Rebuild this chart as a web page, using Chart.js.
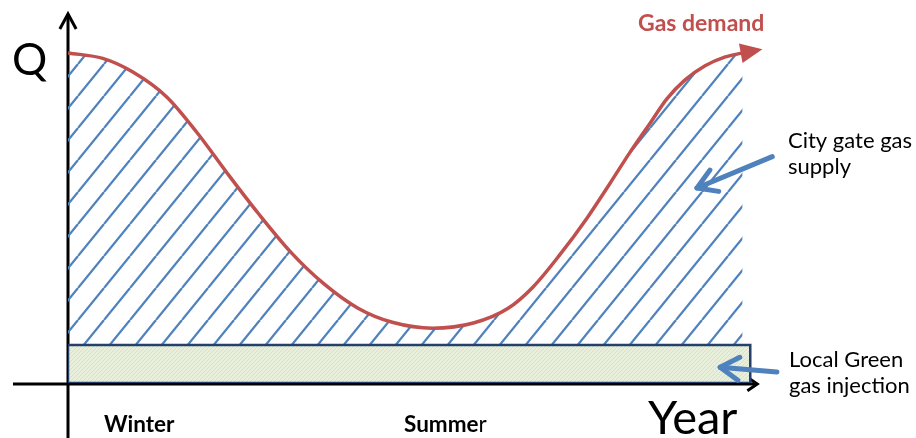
<!DOCTYPE html>
<html>
<head>
<meta charset="utf-8">
<script src="https://cdn.jsdelivr.net/npm/chart.js@4/dist/chart.umd.min.js"></script>
<style>
  html, body { margin: 0; padding: 0; background: #ffffff; }
  #wrap { width: 916px; height: 438px; position: relative; }
</style>
</head>
<body>
<div id="wrap"><canvas id="c"></canvas></div>
<script>
// ---- Data (months of the year vs. relative gas demand Q) ----
const demandMonths = [0, 0.6, 1.12, 1.7, 2.23, 2.75, 3.28, 3.85, 4.4, 5.0, 5.6, 6.3, 7.0, 7.6, 8.03, 8.49, 8.96, 9.36, 9.7, 10.05, 10.34, 10.65, 11.0, 11.35, 11.65];
const demandQ      = [89.7, 88.2, 84.5, 77.8, 68.0, 57.0, 46.2, 35.5, 27.2, 20.4, 16.5, 14.9, 16.3, 20.3, 26.1, 34.8, 44.8, 54.3, 62.6, 70.6, 77.2, 82.3, 86.2, 88.6, 89.7];
const greenGasQ    = 10.3;     // local green gas injection (constant)
const greenGasEnd  = 11.78;    // month where the band ends
const xRange = [0, 12];
const yRange = [0, 100];
// annotation arrows in data units: [fromX, fromY, toX, toY]
const cityGateArrow = [12.16, 61.5, 10.86, 53.0];
const greenArrow    = [12.24, 3.0, 11.26, 4.3];

const HATCH = '#4F81BD';
const RED = '#C0504D';
const BAND_EDGE = '#24406B';

function hatchPattern() {
  const W = 26, H = 32;
  const c = document.createElement('canvas');
  c.width = W; c.height = H;
  const g = c.getContext('2d');
  g.strokeStyle = HATCH; g.lineWidth = 2.2;
  for (const off of [-W, 0, W]) {
    g.beginPath(); g.moveTo(off, H); g.lineTo(off + W, 0); g.stroke();
  }
  return g.createPattern(c, 'repeat');
}
function bandPattern() {
  const c = document.createElement('canvas');
  c.width = 4; c.height = 4;
  const g = c.getContext('2d');
  g.fillStyle = '#e8efdb'; g.fillRect(0, 0, 4, 4);
  g.strokeStyle = '#d6e2c0'; g.lineWidth = 1;
  g.beginPath(); g.moveTo(0, 4); g.lineTo(4, 0); g.moveTo(-2, 2); g.lineTo(2, -2); g.moveTo(2, 6); g.lineTo(6, 2); g.stroke();
  return g.createPattern(c, 'repeat');
}

const demandData = demandMonths.map((m, i) => ({x: m, y: demandQ[i]}));
const bandTop = [{x: 0, y: greenGasQ}, {x: greenGasEnd, y: greenGasQ}];
const bandOutline = [
  {x: 0, y: 0}, {x: 0, y: greenGasQ}, {x: greenGasEnd, y: greenGasQ}, {x: greenGasEnd, y: 0}, {x: 0, y: 0}
];

function arrowChevron(ctx, x1, y1, x2, y2, len, spread) {
  const a = Math.atan2(y2 - y1, x2 - x1);
  ctx.beginPath();
  ctx.moveTo(x2 - len * Math.cos(a - spread), y2 - len * Math.sin(a - spread));
  ctx.lineTo(x2, y2);
  ctx.lineTo(x2 - len * Math.cos(a + spread), y2 - len * Math.sin(a + spread));
  ctx.stroke();
}

const axesPlugin = {
  id: 'axesPlugin',
  beforeDatasetsDraw(chart) {
    const {ctx, scales: {x, y}} = chart;
    const x0 = x.getPixelForValue(0), y0 = y.getPixelForValue(0);
    ctx.save();
    ctx.strokeStyle = '#000'; ctx.lineWidth = 3; ctx.lineCap = 'butt'; ctx.lineJoin = 'miter';
    ctx.beginPath(); ctx.moveTo(x0, chart.height); ctx.lineTo(x0, 14); ctx.stroke();
    arrowChevron(ctx, x0, 100, x0, 14, 17, 0.5);
    const xe = x.getPixelForValue(greenGasEnd) + 7;
    ctx.beginPath(); ctx.moveTo(13, y0 + 1); ctx.lineTo(xe, y0 + 1); ctx.stroke();
    arrowChevron(ctx, 600, y0 + 1, xe, y0 + 1, 12, 0.6);
    ctx.restore();
  },
  afterDatasetsDraw(chart) {
    const {ctx, scales: {x, y}} = chart;
    ctx.save();
    const n = demandMonths.length;
    const px1 = x.getPixelForValue(demandMonths[n - 2]), py1 = y.getPixelForValue(demandQ[n - 2]);
    const px2 = x.getPixelForValue(demandMonths[n - 1]), py2 = y.getPixelForValue(demandQ[n - 1]);
    const a = Math.atan2(py2 - py1, px2 - px1) + 0.05;
    const L = 20, Wd = 10;
    const tx = px2 + L * Math.cos(a), ty = py2 + L * Math.sin(a);
    ctx.fillStyle = RED;
    ctx.beginPath();
    ctx.moveTo(tx, ty);
    ctx.lineTo(px2 - 2 * Math.cos(a) + Wd * Math.sin(a), py2 - 2 * Math.sin(a) - Wd * Math.cos(a));
    ctx.lineTo(px2 - 2 * Math.cos(a) - Wd * Math.sin(a), py2 - 2 * Math.sin(a) + Wd * Math.cos(a));
    ctx.closePath(); ctx.fill();

    ctx.strokeStyle = HATCH; ctx.lineWidth = 5; ctx.lineCap = 'round'; ctx.lineJoin = 'round';
    for (const arr of [cityGateArrow, greenArrow]) {
      const ax1 = x.getPixelForValue(arr[0]), ay1 = y.getPixelForValue(arr[1]);
      const ax2 = x.getPixelForValue(arr[2]), ay2 = y.getPixelForValue(arr[3]);
      ctx.beginPath(); ctx.moveTo(ax1, ay1); ctx.lineTo(ax2, ay2); ctx.stroke();
      arrowChevron(ctx, ax1, ay1, ax2, ay2, 22, 0.55);
    }

    ctx.textBaseline = 'alphabetic'; ctx.textAlign = 'left';
    ctx.fillStyle = '#000';
    ctx.font = '44px Lato';
    ctx.fillText('Q', 12, 75);
    ctx.fillStyle = RED;
    ctx.font = 'bold 23px Lato';
    ctx.fillText('Gas demand', 638, 31);
    ctx.fillStyle = '#000';
    ctx.font = '22px Lato';
    ctx.fillText('City gate gas', 788, 148);
    ctx.fillText('supply', 788, 174);
    ctx.fillText('Local Green', 789, 367);
    ctx.fillText('gas injection', 789, 393);
    ctx.font = 'bold 22.5px Lato';
    ctx.fillText('Winter', 104, 432);
    ctx.fillText('Summe', 404, 432);
    const w = ctx.measureText('Summe').width;
    ctx.font = '22.5px Lato';
    ctx.fillText('r', 404 + w, 432);
    ctx.font = '47px Lato';
    ctx.fillText('Year', 648, 434);
    ctx.restore();
  }
};

new Chart(document.getElementById('c'), {
  type: 'line',
  data: {
    datasets: [
      {
        label: 'Local Green gas injection outline',
        data: bandOutline,
        borderColor: BAND_EDGE,
        borderWidth: 2.5,
        pointRadius: 0,
        tension: 0,
        fill: false,
        order: 0
      },
      {
        label: 'Local Green gas injection',
        data: bandTop,
        borderWidth: 0,
        pointRadius: 0,
        tension: 0,
        backgroundColor: bandPattern(),
        fill: 'origin',
        order: 1
      },
      {
        label: 'Gas demand',
        data: demandData,
        borderColor: RED,
        borderWidth: 3.5,
        pointRadius: 0,
        cubicInterpolationMode: 'monotone',
        backgroundColor: hatchPattern(),
        fill: {target: {value: greenGasQ}, above: hatchPattern(), below: hatchPattern()},
        order: 2
      }
    ]
  },
  options: {
    responsive: true,
    maintainAspectRatio: false,
    animation: false,
    layout: {padding: {left: 68, right: 153, top: 15, bottom: 55}},
    plugins: {legend: {display: false}, tooltip: {enabled: false}},
    scales: {
      x: {type: 'linear', min: xRange[0], max: xRange[1], display: false},
      y: {min: yRange[0], max: yRange[1], display: false}
    }
  },
  plugins: [axesPlugin]
});
</script>
</body>
</html>
